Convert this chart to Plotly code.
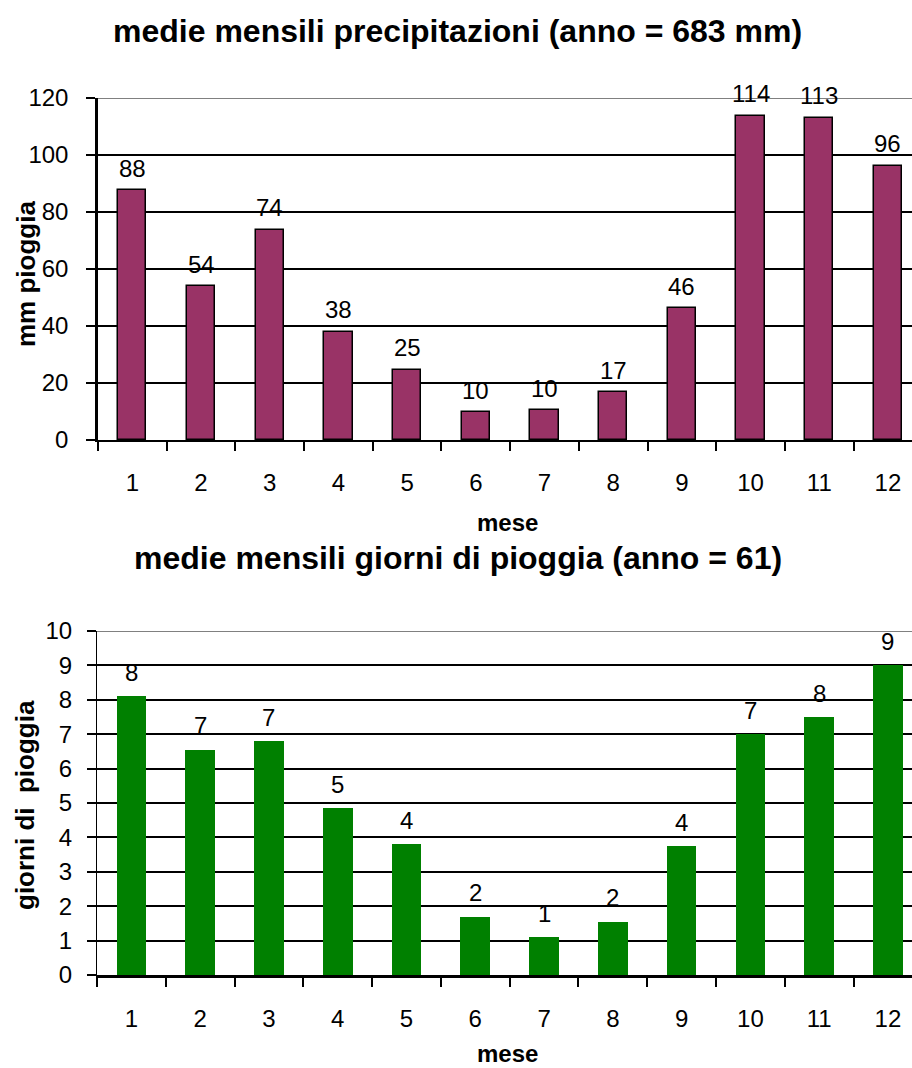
import plotly.graph_objects as go

# Monthly averages
mesi = [str(m) for m in range(1, 13)]
pioggia_mm = [87.7, 54.0, 73.8, 37.9, 24.6, 9.8, 10.4, 16.8, 46.3, 113.8, 113.1, 96.3]
giorni_pioggia = [8.1, 6.55, 6.8, 4.85, 3.8, 1.7, 1.1, 1.55, 3.75, 7.0, 7.5, 9.0]

FONT = "Liberation Sans, Arial, sans-serif"
W, H = 912, 1068

fig = go.Figure()

fig.add_trace(go.Bar(
    x=mesi, y=pioggia_mm, width=0.41,
    marker=dict(color="#993366", line=dict(color="black", width=1.5)),
    xaxis="x", yaxis="y", showlegend=False, hoverinfo="x+y",
))
fig.add_trace(go.Bar(
    x=mesi, y=giorni_pioggia, width=0.43,
    marker=dict(color="#008000", line=dict(width=0)),
    xaxis="x2", yaxis="y2", showlegend=False, hoverinfo="x+y",
))

def py(px):
    """Convert a pixel row (from the top) to paper coordinates."""
    return 1 - px / H

x_dom = [98 / W, 1.0]
x_dom2 = [97 / W, 1.0]

common_x = dict(
    type="category", tickson="boundaries", ticks="outside", ticklen=9,
    tickwidth=1.5, tickcolor="black", showline=True, linecolor="black",
    showgrid=False, zeroline=False, automargin=False,
    tickfont=dict(family=FONT, size=24, color="black"),
    ticklabelstandoff=20,
    range=[-0.5, 11.35], fixedrange=True,
)
common_y = dict(
    ticks="outside", ticklen=9, tickwidth=1.5, tickcolor="black",
    showline=True, linecolor="black", showgrid=True, gridcolor="black",
    gridwidth=1.6, zeroline=False, automargin=False,
    tickfont=dict(family=FONT, size=24, color="black"), fixedrange=True,
)

fig.update_layout(
    width=W, height=H, margin=dict(l=0, r=0, t=0, b=0, autoexpand=False),
    paper_bgcolor="white", plot_bgcolor="white",
    bargap=0.0,
    xaxis=dict(common_x, domain=x_dom, linewidth=2, anchor="y"),
    yaxis=dict(common_y, domain=[py(440), py(98)], range=[0, 120], dtick=20,
               linewidth=2.5, ticklabelstandoff=13, anchor="x"),
    xaxis2=dict(common_x, domain=x_dom2, linewidth=2.5, anchor="y2"),
    yaxis2=dict(common_y, domain=[py(975), py(631)], range=[0, 10], dtick=1,
                linewidth=1.2, ticklabelstandoff=10, anchor="x2"),
)

annotations = []
# value labels above each bar (category index as x position)
for i, v in enumerate(pioggia_mm):
    annotations.append(dict(x=i, y=v, xref="x", yref="y", text=f"{v:.0f}",
                            showarrow=False, xanchor="center", yanchor="middle", yshift=22,
                            font=dict(family=FONT, size=24, color="black")))
for i, v in enumerate(giorni_pioggia):
    annotations.append(dict(x=i, y=v, xref="x2", yref="y2", text=f"{round(v + 1e-9):.0f}",
                            showarrow=False, xanchor="center", yanchor="middle", yshift=24,
                            font=dict(family=FONT, size=24, color="black")))

def paper_text(x, y, text, size, angle=0):
    return dict(x=x / W, y=py(y), xref="paper", yref="paper", showarrow=False,
                xanchor="center", yanchor="middle", text=text, textangle=angle,
                font=dict(family=FONT, size=size, color="black"))

# titles
annotations += [
    paper_text(458, 31, "<b>medie mensili precipitazioni (anno = 683 mm)</b>", 32),
    paper_text(458, 558, "<b>medie mensili giorni di pioggia (anno = 61)</b>", 32),
    paper_text(508, 522, "<b>mese</b>", 24),
    paper_text(508, 1053, "<b>mese</b>", 24),
    paper_text(26, 274, "<b>mm pioggia</b>", 26, -90),
    paper_text(25, 805, "<b>giorni di  pioggia</b>", 26, -90),
]
fig.update_layout(annotations=annotations)

# grey plot-area border along the top of each chart
fig.update_layout(shapes=[
    dict(type="line", xref="x domain", yref="y", x0=0, x1=1, y0=120, y1=120,
         line=dict(color="#808080", width=2), layer="above"),
    dict(type="line", xref="x2 domain", yref="y2", x0=0, x1=1, y0=10, y1=10,
         line=dict(color="#808080", width=2), layer="above"),
])

fig.write_html("out.html")
